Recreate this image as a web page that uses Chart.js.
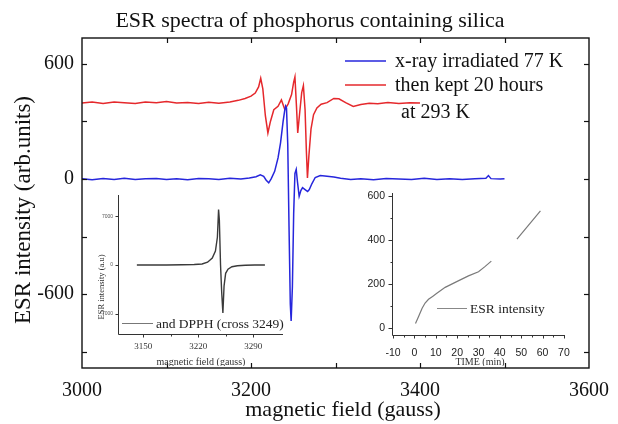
<!DOCTYPE html>
<html><head><meta charset="utf-8">
<script src="https://cdn.jsdelivr.net/npm/chart.js@4/dist/chart.umd.min.js"></script>
<style>
html,body{margin:0;padding:0;background:#fff;}
#wrap{position:relative;width:618px;height:424px;overflow:hidden;background:#fff;}
canvas{position:absolute;}
</style></head><body>
<div id="wrap">
<canvas id="main" width="618" height="424" style="left:0;top:0"></canvas>
<canvas id="insetL" width="215" height="181" style="left:80px;top:185px"></canvas>
<canvas id="insetR" width="225" height="181" style="left:355px;top:185px"></canvas>
</div>
<script>
// ---------- main spectra ----------
const blueField = [
 3000,3012,3025,3038,3050,3063,3075,3088,3100,3112,
 3125,3138,3150,3162,3175,3188,3198,3206,3211,3215,
 3218,3221,3224,3228,3232,3235,3238,3240,3241,3242,
 3243.5,3245,3246.5,3247.5,3249,3250.5,3252,3253.5,3255,3257,
 3259,3261,3264,3267,3269,3272,3276,3282,3290,3298,
 3306,3318,3330,3345,3360,3375,3390,3405,3420,3435,
 3450,3465,3478,3481,3484,3495,3500
];
const blueValue = [
 2,-4,3,-2,4,-3,1,3,-2,2,
 -4,3,1,-2,4,0,5,12,22,14,
 -6,-20,2,40,110,190,300,360,380,370,
 180,-250,-650,-740,-560,-180,30,50,-15,-90,
 -60,-45,-55,-65,-55,-25,8,18,14,10,
 4,-3,2,-4,3,0,-3,4,-2,2,
 -3,1,4,18,2,0,2
];
const redField = [
 3000,3012,3025,3038,3050,3063,3075,3088,3100,3112,
 3125,3138,3150,3162,3175,3185,3193,3200,3205,3209,
 3211.5,3214,3217,3220,3223,3227,3232,3236,3240,3244,
 3248,3250.5,3252,3253.8,3255.3,3257.5,3260,3262,3264,3265.5,
 3266.8,3268.5,3271,3274,3278,3283,3290,3298,3304,3312,
 3321,3330,3340,3350,3362,3375,3388,3400
];
const redValue = [
 396,401,394,402,398,393,401,397,404,396,
 399,393,400,395,402,410,420,432,448,480,
 525,470,330,240,300,361,379,412,362,392,
 440,505,532,380,240,340,450,487,360,150,
 5,120,260,335,370,390,398,420,418,398,
 378,388,395,392,399,394,398,396
];
const seriesLabels = ['x-ray irradiated 77 K', 'then kept 20 hours'];
const seriesLabelExtra = ' at 293 K';
const mainXTicks = [3000, 3200, 3400, 3600];
const mainXMinor = [3100, 3300, 3500];
const mainYTicks = [-600, 0, 600];
const mainYMinor = [-900, -300, 300];
const mainTitle = 'ESR spectra of phosphorus containing silica';
const mainXTitle = 'magnetic field (gauss)';
const mainYTitle = 'ESR intensity (arb.units)';

// ---------- left inset (DPPH) ----------
const dpphField = [3142,3160,3180,3200,3215,3225,3232,3238,3242,3244.5,
                   3246,3247,3248.5,3250,3251.5,3253,3255,3258,3263,3270,
                   3280,3292,3305];
const dpphValue = [0,0,10,30,80,150,400,1000,2000,4000,
                   8000,6500,0,-4000,-6900,-3000,-1200,-600,-250,-100,
                   -30,0,0];
const leftXTicks = [3150, 3220, 3290];
const leftXMinor = [3185, 3255];
const leftYTicks = [-7000, 0, 7000];
const leftLegend = 'and DPPH (cross 3249)';
const leftXTitle = 'magnetic field (gauss)';
const leftYTitle = 'ESR intensity (a.u)';

// ---------- right inset (time) ----------
const timeMin      = [0.5, 2, 3.6, 5, 6.6, 8.5, 10.5, 14.4, 19.8, 25.3, 30, 33, 36, 42, 48, 59];
const esrIntensity = [22, 55, 91, 115, 132, 145, 159, 186, 212, 238, 257, 280, 305, null, 405, 533];
const rightXTicks = [-10, 0, 10, 20, 30, 40, 50, 60, 70];
const rightXMinor = [-5, 5, 15, 25, 35, 45, 55, 65];
const rightYTicks = [0, 200, 400, 600];
const rightYMinor = [100, 300, 500];
const rightLegend = 'ESR intensity';
const rightXTitle = 'TIME (min)';

const BLUE = '#2626dc';
const RED = '#e5282c';
const SERIF = '"Liberation Serif", "Times New Roman", serif';
const SANS = '"Liberation Sans", Arial, sans-serif';

function pts(xs, ys) { return xs.map((x, i) => ({ x: x, y: ys[i] })); }
function seg(ctx, x1, y1, x2, y2) { ctx.beginPath(); ctx.moveTo(x1, y1); ctx.lineTo(x2, y2); ctx.stroke(); }
function txt(ctx, s, x, y, font, color, align, base, rot) {
  ctx.save();
  ctx.font = font; ctx.fillStyle = color; ctx.textAlign = align; ctx.textBaseline = base;
  ctx.translate(x, y);
  if (rot) ctx.rotate(rot);
  ctx.fillText(s, 0, 0);
  ctx.restore();
}
const r = v => Math.round(v) + 0.5;

const mainDecor = {
  id: 'mainDecor',
  beforeDraw(chart) {
    const ctx = chart.ctx;
    ctx.save(); ctx.fillStyle = '#fff'; ctx.fillRect(0, 0, chart.width, chart.height); ctx.restore();
  },
  afterDraw(chart) {
    const { ctx, chartArea: a, scales: { x, y } } = chart;
    ctx.save();
    ctx.strokeStyle = '#111'; ctx.lineWidth = 1.4;
    ctx.strokeRect(a.left, a.top, a.right - a.left, a.bottom - a.top);
    ctx.lineWidth = 1.2;
    const tl = 5;
    mainXTicks.concat(mainXMinor).forEach(v => {
      const px = r(x.getPixelForValue(v));
      if (px > a.left + 2 && px < a.right - 2) {
        seg(ctx, px, a.top, px, a.top + tl);
        seg(ctx, px, a.bottom, px, a.bottom - tl);
      }
    });
    mainYTicks.concat(mainYMinor).forEach(v => {
      const py = r(y.getPixelForValue(v));
      seg(ctx, a.left, py, a.left + tl, py);
      seg(ctx, a.right, py, a.right - tl, py);
    });
    const tf = '20px ' + SERIF;
    mainXTicks.forEach(v => txt(ctx, String(v), x.getPixelForValue(v), 396, tf, '#111', 'center', 'alphabetic'));
    mainYTicks.forEach(v => txt(ctx, String(v), 74, y.getPixelForValue(v), tf, '#111', 'right', 'middle'));
    txt(ctx, mainTitle, 310, 27, '22px ' + SERIF, '#111', 'center', 'alphabetic');
    txt(ctx, mainXTitle, 343, 416, '22px ' + SERIF, '#111', 'center', 'alphabetic');
    txt(ctx, mainYTitle, 24, 210, '23px ' + SERIF, '#111', 'center', 'middle', -Math.PI / 2);
    // legend
    const lf = '20px ' + SERIF;
    ctx.lineWidth = 1.5;
    ctx.strokeStyle = chart.data.datasets[0].borderColor;
    seg(ctx, 345, 61, 386, 61);
    txt(ctx, chart.data.datasets[0].label, 395, 67, lf, '#111', 'left', 'alphabetic');
    ctx.strokeStyle = chart.data.datasets[1].borderColor;
    seg(ctx, 345, 85, 386, 85);
    txt(ctx, chart.data.datasets[1].label, 395, 91, lf, '#111', 'left', 'alphabetic');
    txt(ctx, seriesLabelExtra, 396, 118, lf, '#111', 'left', 'alphabetic');
    ctx.restore();
  }
};

new Chart(document.getElementById('main'), {
  type: 'line',
  data: {
    datasets: [
      { label: seriesLabels[0], data: pts(blueField, blueValue), borderColor: BLUE, borderWidth: 1.5, pointRadius: 0, tension: 0, fill: false },
      { label: seriesLabels[1], data: pts(redField, redValue), borderColor: RED, borderWidth: 1.5, pointRadius: 0, tension: 0, fill: false }
    ]
  },
  options: {
    responsive: false, animation: false, devicePixelRatio: 1,
    layout: { padding: { left: 82, top: 38, right: 29, bottom: 56 } },
    scales: {
      x: { type: 'linear', min: 3000, max: 3600, display: false },
      y: { type: 'linear', min: -985, max: 735, display: false }
    },
    plugins: { legend: { display: false }, tooltip: { enabled: false }, title: { display: false } }
  },
  plugins: [mainDecor]
});

// ---------- left inset ----------
const leftDecor = {
  id: 'leftDecor',
  afterDraw(chart) {
    const { ctx, chartArea: a, scales: { x, y } } = chart;
    ctx.save();
    ctx.strokeStyle = '#333'; ctx.lineWidth = 1;
    seg(ctx, r(a.left), a.top, r(a.left), r(a.bottom));
    seg(ctx, r(a.left), r(a.bottom), a.right, r(a.bottom));
    leftXTicks.forEach(v => { const px = r(x.getPixelForValue(v)); seg(ctx, px, r(a.bottom), px, r(a.bottom) + 3); });
    leftXMinor.forEach(v => { const px = r(x.getPixelForValue(v)); seg(ctx, px, r(a.bottom), px, r(a.bottom) + 2); });
    leftYTicks.forEach(v => { const py = r(y.getPixelForValue(v)); seg(ctx, r(a.left), py, r(a.left) - 3, py); });
    leftXTicks.forEach(v => txt(ctx, String(v), x.getPixelForValue(v), 164, '9px ' + SERIF, '#333', 'center', 'alphabetic'));
    leftYTicks.forEach(v => txt(ctx, String(v), 33, y.getPixelForValue(v), '5px ' + SANS, '#555', 'right', 'middle'));
    txt(ctx, leftXTitle, 121, 180, '10px ' + SERIF, '#333', 'center', 'alphabetic');
    txt(ctx, leftYTitle, 22, 102, '8.5px ' + SERIF, '#333', 'center', 'middle', -Math.PI / 2);
    ctx.strokeStyle = '#777'; ctx.lineWidth = 1;
    seg(ctx, 42, 138.5, 73, 138.5);
    txt(ctx, leftLegend, 76, 143, '13.5px ' + SERIF, '#222', 'left', 'alphabetic');
    ctx.restore();
  }
};
new Chart(document.getElementById('insetL'), {
  type: 'line',
  data: { datasets: [{ label: leftLegend, data: pts(dpphField, dpphValue), borderColor: '#3a3a3a', borderWidth: 1.4, pointRadius: 0, tension: 0, fill: false }] },
  options: {
    responsive: false, animation: false, devicePixelRatio: 1,
    layout: { padding: { left: 38, top: 10, right: 12, bottom: 32 } },
    scales: {
      x: { type: 'linear', min: 3118, max: 3328, display: false },
      y: { type: 'linear', min: -9950, max: 10100, display: false }
    },
    plugins: { legend: { display: false }, tooltip: { enabled: false } }
  },
  plugins: [leftDecor]
});

// ---------- right inset ----------
const rightDecor = {
  id: 'rightDecor',
  afterDraw(chart) {
    const { ctx, chartArea: a, scales: { x, y } } = chart;
    ctx.save();
    ctx.strokeStyle = '#333'; ctx.lineWidth = 1;
    seg(ctx, r(a.left), a.top, r(a.left), r(a.bottom));
    seg(ctx, r(a.left), r(a.bottom), a.right, r(a.bottom));
    rightXTicks.forEach(v => { const px = r(x.getPixelForValue(v)); seg(ctx, px, r(a.bottom), px, r(a.bottom) + 3); });
    rightXMinor.forEach(v => { const px = r(x.getPixelForValue(v)); seg(ctx, px, r(a.bottom), px, r(a.bottom) + 2); });
    rightYTicks.forEach(v => { const py = r(y.getPixelForValue(v)); seg(ctx, r(a.left), py, r(a.left) - 4, py); });
    rightYMinor.forEach(v => { const py = r(y.getPixelForValue(v)); seg(ctx, r(a.left), py, r(a.left) - 2, py); });
    rightXTicks.forEach(v => txt(ctx, String(v), x.getPixelForValue(v), 168, '10.5px ' + SANS, '#222', 'center', 'middle'));
    rightYTicks.forEach(v => txt(ctx, String(v), 30, y.getPixelForValue(v), '10.5px ' + SANS, '#222', 'right', 'middle'));
    txt(ctx, rightXTitle, 125, 180, '10px ' + SERIF, '#333', 'center', 'alphabetic');
    ctx.strokeStyle = '#888'; ctx.lineWidth = 1;
    seg(ctx, 82, 123.5, 112, 123.5);
    txt(ctx, rightLegend, 115, 128, '13.5px ' + SERIF, '#222', 'left', 'alphabetic');
    ctx.restore();
  }
};
new Chart(document.getElementById('insetR'), {
  type: 'line',
  data: { datasets: [{ label: rightLegend, data: pts(timeMin, esrIntensity), borderColor: '#7a7a7a', borderWidth: 1.2, pointRadius: 0, tension: 0, fill: false, spanGaps: false }] },
  options: {
    responsive: false, animation: false, devicePixelRatio: 1,
    layout: { padding: { left: 37, top: 8, right: 15, bottom: 31 } },
    scales: {
      x: { type: 'linear', min: -10.5, max: 70.5, display: false },
      y: { type: 'linear', min: -30, max: 614, display: false }
    },
    plugins: { legend: { display: false }, tooltip: { enabled: false } }
  },
  plugins: [rightDecor]
});
</script>
</body></html>
